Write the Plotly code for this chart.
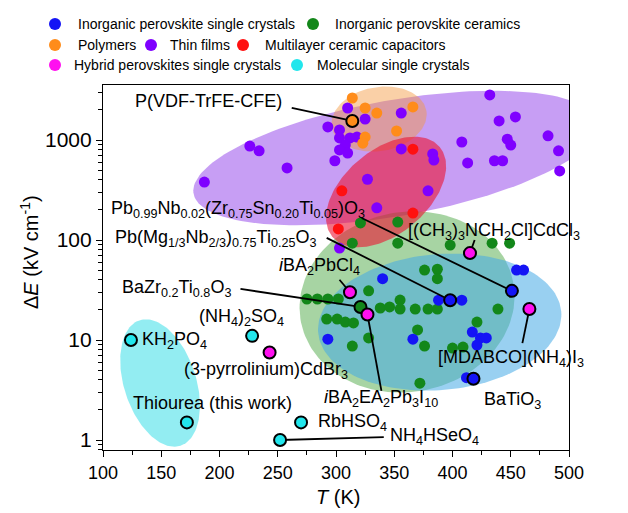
import numpy as np
import plotly.graph_objects as go

# ---------------- data ----------------
# Thin films
thin_T = [226, 234, 258, 187, 293, 303, 303, 312, 318, 308, 303, 310, 299, 310, 325,
          356, 356, 383, 384, 327, 379, 335, 303, 408, 413, 432, 440, 454, 436, 443,
          447, 450, 482, 491, 492]
thin_E = [870, 780, 525, 380, 1350, 1260, 1050, 1050, 1070, 890, 795, 740, 620, 2090, 1620,
          1860, 815, 725, 630, 405, 310, 210, 83, 955, 590, 2820, 1550, 1700, 620, 620,
          1020, 890, 1100, 780, 490]

# Polymers
poly_T = [314, 325, 335, 366, 352, 325, 323]
poly_E = [2630, 2090, 1860, 2140, 1230, 1070, 930]

# Multilayer ceramic capacitors
mlcc_T = [366, 305, 366, 302]
mlcc_E = [810, 310, 186, 129]

# Inorganic perovskite ceramics
cer_T = [321, 353, 314, 353, 398, 434, 449, 376, 387, 387, 328, 275, 284, 293, 302,
         355, 338, 346, 355, 368, 379, 387, 292, 301, 308, 315, 421, 439, 328, 314,
         370, 376, 400, 409, 372]
cer_E = [148, 151, 93, 93, 89, 93, 93, 50, 51, 41, 31, 25.7, 25.7, 25.7, 25.7,
         25.1, 20.9, 21.4, 20.4, 20.4, 20.4, 20.4, 16.2, 16.2, 15.1, 14.8, 15.1, 20.4, 10.5, 8.7,
         12.6, 8.7, 8.3, 8.5, 3.7]

# Inorganic perovskite single crystals
sc_T = [340, 388, 408, 455, 461, 293, 366, 417, 424, 429, 421, 412]
sc_E = [41, 25, 25, 50, 50, 10.2, 10.2, 12, 10.5, 10.5, 8.9, 4.2]

# Highlighted compounds
named = [
    "P(VDF-TrFE-CFE)",
    "Pb<sub>0.99</sub>Nb<sub>0.02</sub>(Zr<sub>0.75</sub>Sn<sub>0.20</sub>Ti<sub>0.05</sub>)O<sub>3</sub>",
    "Pb(Mg<sub>1/3</sub>Nb<sub>2/3</sub>)<sub>0.75</sub>Ti<sub>0.25</sub>O<sub>3</sub>",
    "[(CH<sub>3</sub>)<sub>3</sub>NCH<sub>2</sub>Cl]CdCl<sub>3</sub>",
    "<i>i</i>BA<sub>2</sub>PbCl<sub>4</sub>",
    "BaZr<sub>0.2</sub>Ti<sub>0.8</sub>O<sub>3</sub>",
    "(NH<sub>4</sub>)<sub>2</sub>SO<sub>4</sub>",
    "KH<sub>2</sub>PO<sub>4</sub>",
    "(3-pyrrolinium)CdBr<sub>3</sub>",
    "<i>i</i>BA<sub>2</sub>EA<sub>2</sub>Pb<sub>3</sub>I<sub>10</sub>",
    "Thiourea (this work)",
    "RbHSO<sub>4</sub>",
    "NH<sub>4</sub>HSeO<sub>4</sub>",
    "BaTiO<sub>3</sub>",
    "[MDABCO](NH<sub>4</sub>)I<sub>3</sub>",
]
named_T = [314, 451, 398, 415, 312, 321, 228, 124, 243, 327, 172, 270, 252, 418, 466]
named_E = [1550, 31, 25, 74, 30, 21.4, 11, 10, 7.5, 18, 1.5, 1.5, 1.0, 4.1, 20.4]
named_cls = ["poly", "sc", "sc", "hyb", "hyb", "cer", "mol", "mol", "hyb", "hyb",
             "mol", "mol", "mol", "sc", "hyb"]

# ---------------- styling / layout ----------------
COL = {
    "sc": "#1414f5", "cer": "#13871a", "poly": "#ff8c1a", "thin": "#7f00ff",
    "mlcc": "#ff1010", "hyb": "#ff10f0", "mol": "#22e6ec",
}
FONT = "Liberation Sans, Arial, Helvetica, sans-serif"

T_MIN, T_MAX = 100, 500
LOG_MIN, LOG_MAX = -0.1, 3.55
W, H = 628, 513
MARG = dict(l=103, r=59, t=85, b=63)
PW = W - MARG["l"] - MARG["r"]
PH = H - MARG["t"] - MARG["b"]
KX = PW / (T_MAX - T_MIN)
KY = PH / (LOG_MAX - LOG_MIN)


def ellipse(t0, e0, a, b, ang, n=160):
    """Ellipse centred at (t0, e0); semi-axes a, b in screen pixels, rotation in degrees."""
    th = np.radians(ang)
    t = np.linspace(0, 2 * np.pi, n)
    dx = a * np.cos(t) * np.cos(th) - b * np.sin(t) * np.sin(th)
    dy = a * np.cos(t) * np.sin(th) + b * np.sin(t) * np.cos(th)
    return t0 + dx / KX, 10 ** (np.log10(e0) + dy / KY)


# region envelopes: (centre T, centre E, a, b, angle, fill)
regions = [
    (351, 660, 205, 58, 10, "rgba(130,40,230,0.45)"),     # thin films
    (361, 24, 108, 90, 10, "rgba(60,160,50,0.45)"),       # ceramics
    (389, 15.1, 122, 68, 5, "rgba(70,170,230,0.55)"),     # single crystals
    (149, 3.72, 66, 36, -72, "rgba(40,220,230,0.5)"),     # molecular
    (337, 1620, 48, 32, 10, "rgba(245,150,60,0.45)"),     # polymers
    (343, 302, 70, 42, 40, "rgba(235,20,50,0.6)"),        # MLCC
]

fig = go.Figure()

for tc, ec, a, b, ang, fc in regions:
    ex, ey = ellipse(tc, ec, a, b, ang)
    fig.add_trace(go.Scatter(x=ex, y=ey, mode="lines", fill="toself", fillcolor=fc,
                             line=dict(width=0), hoverinfo="skip", showlegend=False))

MS = 11
for xs, ys, key in [(thin_T, thin_E, "thin"), (poly_T, poly_E, "poly"), (mlcc_T, mlcc_E, "mlcc"),
                    (cer_T, cer_E, "cer"), (sc_T, sc_E, "sc")]:
    fig.add_trace(go.Scatter(x=xs, y=ys, mode="markers",
                             marker=dict(size=MS, color=COL[key], line=dict(width=0)),
                             showlegend=False))

# label placement: text anchor (T, E) and leader-line end (T, E) or None
label_pos = [
    ((126, 2455), (262, 2090)),
    ((105.5, 200), (322, 166)),
    ((109, 104), (292, 105)),
    ((360, 123), (419, 100)),
    ((249, 54), (303, 40)),
    ((115, 32.4), (218, 32.4)),
    ((181, 16.6), None),
    ((132, 10), None),
    ((168, 5.0), None),
    ((288, 2.62), (339, 3.1)),
    ((124, 2.35), None),
    ((283, 1.49), None),
    ((345, 1.08), (341, 1.07)),
    ((425, 2.5), None),
    ((386, 6.5), (460, 9.3)),
]

# leader lines
for (txt_pos, end), t, e in zip(label_pos, named_T, named_E):
    if end is None:
        continue
    fig.add_trace(go.Scatter(x=[t, end[0]], y=[e, end[1]], mode="lines",
                             line=dict(color="black", width=1.8), hoverinfo="skip",
                             showlegend=False))

# highlighted points
fig.add_trace(go.Scatter(x=named_T, y=named_E, mode="markers",
                         marker=dict(size=12, color=[COL[c] for c in named_cls],
                                     line=dict(color="black", width=2)),
                         showlegend=False))

annotations = []
for txt, (txt_pos, end) in zip(named, label_pos):
    annotations.append(dict(x=txt_pos[0], y=np.log10(txt_pos[1]), xref="x", yref="y",
                            text=txt, showarrow=False, xanchor="left", yanchor="middle",
                            font=dict(family=FONT, size=18, color="black")))


def px2paper(px, py):
    return (px - MARG["l"]) / PW, (H - MARG["b"] - py) / PH


# legend block
legend_items = [
    ("Inorganic perovskite single crystals", "sc", 55, 76, 24),
    ("Inorganic perovskite ceramics", "cer", 313, 333, 24),
    ("Polymers", "poly", 55, 76, 45),
    ("Thin films", "thin", 151, 168, 45),
    ("Multilayer ceramic capacitors", "mlcc", 243, 263, 45),
    ("Hybrid perovskites single crystals", "hyb", 55, 72, 65),
    ("Molecular single crystals", "mol", 297, 315, 65),
]
shapes = []
for name, key, mx, tx, py in legend_items:
    ax_, ay_ = px2paper(mx, py)
    shapes.append(dict(type="circle", xref="paper", yref="paper", xsizemode="pixel",
                       ysizemode="pixel", xanchor=ax_, yanchor=ay_, x0=-6, x1=6, y0=-6, y1=6,
                       fillcolor=COL[key], line=dict(width=0), layer="above"))
    tx_, ty_ = px2paper(tx, py)
    annotations.append(dict(x=tx_, y=ty_, xref="paper", yref="paper", text=name,
                            showarrow=False, xanchor="left", yanchor="middle",
                            font=dict(family=FONT, size=14, color="black")))

# axis titles
xt = px2paper(338, 497)
annotations.append(dict(x=xt[0], y=xt[1], xref="paper", yref="paper", text="<i>T</i> (K)",
                        showarrow=False, xanchor="center", yanchor="middle",
                        font=dict(family=FONT, size=20, color="black")))
yt = px2paper(29, 252)
annotations.append(dict(x=yt[0], y=yt[1], xref="paper", yref="paper",
                        text="Δ<i>E</i> (kV cm<sup>-1</sup>)", textangle=-90,
                        showarrow=False, xanchor="center", yanchor="middle",
                        font=dict(family=FONT, size=20, color="black")))

fig.update_layout(
    width=W, height=H, margin=MARG, paper_bgcolor="white", plot_bgcolor="white",
    showlegend=False, annotations=annotations, shapes=shapes,
    font=dict(family=FONT, color="black"),
)
fig.update_xaxes(range=[T_MIN, T_MAX], dtick=50, ticks="outside", ticklen=6, tickwidth=1.2,
                 tickcolor="black", showline=True, linecolor="black", linewidth=1.2,
                 mirror=True, showgrid=False, zeroline=False,
                 tickfont=dict(family=FONT, size=18, color="black"),
                 minor=dict(dtick=25, ticks="outside", ticklen=3.5, tickwidth=1.2,
                            tickcolor="black", showgrid=False))
fig.update_yaxes(type="log", range=[LOG_MIN, LOG_MAX], tickvals=[1, 10, 100, 1000],
                 ticktext=["1", "10", "100", "1000"], ticks="outside", ticklen=6,
                 tickwidth=1.2, tickcolor="black", showline=True, linecolor="black",
                 linewidth=1.2, mirror=True, showgrid=False, zeroline=False,
                 tickfont=dict(family=FONT, size=21, color="black"),
                 minor=dict(dtick="D1", ticks="outside", ticklen=3.5, tickwidth=1.2,
                            tickcolor="black", showgrid=False))

fig.write_html("out.html")
